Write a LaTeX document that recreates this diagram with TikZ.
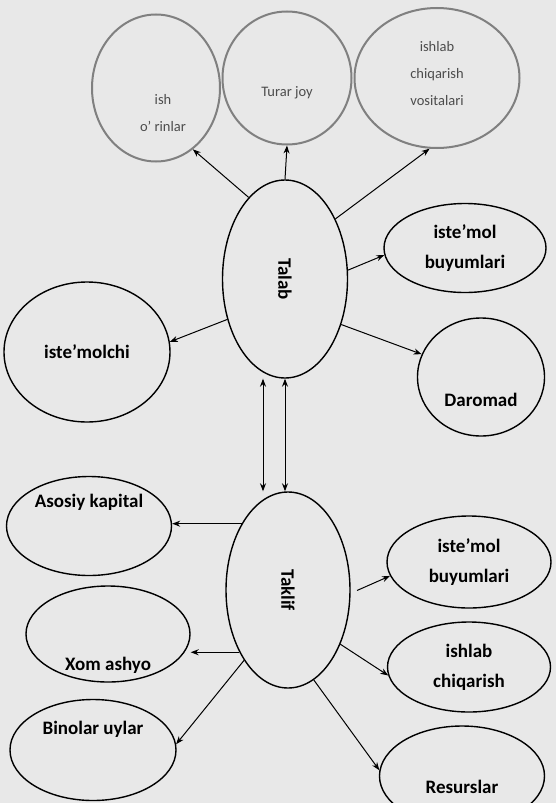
\documentclass[tikz,border=0pt]{standalone}
\usepackage{fontspec}
\setmainfont{Carlito}
\usetikzlibrary{shapes.geometric, arrows.meta}

\begin{document}
\begin{tikzpicture}[
    x=1pt, y=-1pt,
    oval/.style={
        ellipse,
        draw=black,
        line width=1.4pt,
        inner sep=0pt,
        align=center,
        font=\bfseries\fontsize{19}{30}\selectfont
    },
    faded/.style={
        oval,
        draw=black!50,
        line width=2pt
    },
    lbl/.style={font=\bfseries\fontsize{19}{30}\selectfont},
    fadedlbl/.style={align=center, text=black!70,
        font=\fontsize{14.5}{27}\selectfont},
    arrow/.style={-{Stealth[length=8pt,width=6pt]}, line width=1pt},
    both/.style={{Stealth[length=8pt,width=6pt]}-{Stealth[length=8pt,width=6pt]}, line width=1pt}
]

% background of the scan
\fill[black!9] (0,0) rectangle (556,803);
\clip (0,0) rectangle (556,803);

% Talab side
\node[oval, minimum width=125pt, minimum height=198pt] (Talab) at (285,279)
{\rotatebox{-90}{Talab}};

\node[faded, minimum width=128pt, minimum height=147pt,
    label={[fadedlbl, xshift=7pt, yshift=-25pt]center:ish\\o' rinlar}] (ishOrin) at (156,88) {};
\node[faded, minimum width=129pt, minimum height=133pt,
    label={[fadedlbl, yshift=-15pt]center:Turar joy}] (turar) at (287,78) {};
\node[faded, minimum width=165pt, minimum height=140pt,
    label={[fadedlbl, yshift=4pt]center:ishlab\\chiqarish\\vositalari}] (vosita) at (437,78) {};

\node[oval, minimum width=162pt, minimum height=89pt] (istTop) at (465,248)
{iste'mol\\buyumlari};
\node[oval, minimum width=166pt, minimum height=140pt] (isteMolchi) at (87,352)
{iste'molchi};
\node[oval, minimum width=127pt, minimum height=118pt,
    label={[lbl, yshift=-23pt]center:Daromad}] (daromad) at (481,377) {};

% Taklif side
\node[oval, minimum width=124pt, minimum height=196pt] (Taklif) at (288,590)
{\rotatebox{-90}{Taklif}};

\node[oval, minimum width=165pt, minimum height=99pt,
    label={[lbl, yshift=24pt]center:Asosiy kapital}] (asosiy) at (89,526) {};
\node[oval, minimum width=164pt, minimum height=96pt,
    label={[lbl, yshift=-31pt]center:Xom ashyo}] (xom) at (108,634) {};
\node[oval, minimum width=166pt, minimum height=101pt,
    label={[lbl, yshift=21pt]center:Binolar uylar}] (binolar) at (93,750) {};

\node[oval, minimum width=164pt, minimum height=92pt] (istBottom) at (469,562)
{iste'mol\\buyumlari};
\node[oval, minimum width=163pt, minimum height=90pt] (ishlab) at (469,667)
{ishlab\\chiqarish};
\node[oval, minimum width=165pt, minimum height=100pt,
    label={[lbl, yshift=-11pt]center:Resurslar}] (resurs) at (462,776) {};

% arrows from Talab
\draw[arrow] (Talab.114) -- (ishOrin.-59);
\draw[arrow] (Talab.north) -- (turar.south);
\draw[arrow] (Talab.50) -- (vosita.-96);
\draw[arrow] (Talab.8) -- (istTop.185);
\draw[arrow] (Talab.-145) -- (isteMolchi.7);
\draw[arrow] (Talab.-39) -- (daromad.159);

% between Talab and Taklif
\draw[both] ([xshift=-22pt]Talab.south) -- ([xshift=-22pt]Talab.south |- Taklif.north);
\draw[both] (Talab.south) -- (Talab.south |- Taklif.north);

% arrows from Taklif
\draw[arrow] (Taklif.125) -- (Taklif.125 -| asosiy.east);
\draw[arrow] (Taklif.-128) -- (Taklif.-128 -| xom.east);
\draw[arrow] (Taklif.-122) -- (binolar.4);
\draw[arrow, shorten <=7pt] (Taklif.-3) -- (istBottom.190);
\draw[arrow] (Taklif.-46) -- (ishlab.186);
\draw[arrow] (Taklif.-74) -- (resurs.176);

\end{tikzpicture}
\end{document}
